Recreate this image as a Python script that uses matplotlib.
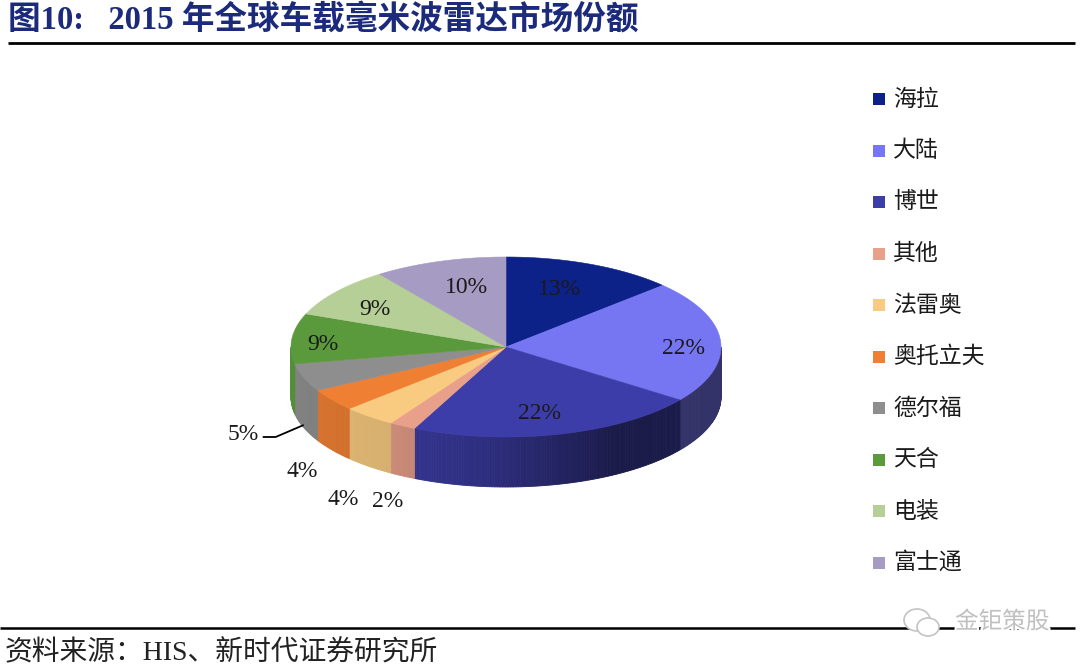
import numpy as np
import matplotlib
matplotlib.use('Agg')
import matplotlib.pyplot as plt
from matplotlib.patches import Polygon, Rectangle, Ellipse
from matplotlib.colors import to_rgb
import matplotlib.patheffects as pe

# ---------------- data ----------------
categories = ['海拉', '大陆', '博世', '其他', '法雷奥', '奥托立夫', '德尔福', '天合', '电装', '富士通']
shares = [13, 22, 22, 2, 4, 4, 5, 9, 9, 10]
colors = ['#0d2288', '#7676f2', '#3d3da9', '#e9a08a', '#f9cb80',
          '#ef7f32', '#8e8e8e', '#5b9a3c', '#b5cf97', '#a69bc2']
title = '图10:   2015 年全球车载毫米波雷达市场份额'
source = '资料来源：HIS、新时代证券研究所'
watermark = '金钜策股'

# ---------------- layout ----------------
CX, CY, RX, RY, DEPTH = 506, 347, 215, 90, 50
# label placement as (x-fraction, y-fraction) of the ellipse radii along the slice's mid-angle
LABEL_POS = [(0.627, 0.702), (0.827, -0.18), (0.626, 0.763), (1.144, 1.325), (1.19, 1.478),
             (1.17, 1.40), None, (0.855, 0.24), (0.771, 0.68), (0.595, 0.695)]
LEADER_IDX = 6
SERIF_CJK = ['Liberation Serif', 'Noto Sans CJK SC']
CJK = ['Noto Sans CJK SC', 'DejaVu Sans']

fig = plt.figure(figsize=(10.8, 6.7), dpi=100)
ax = fig.add_axes([0, 0, 1, 1])
ax.set_xlim(0, 1080)
ax.set_ylim(670, 0)
ax.axis('off')


def pt(theta_deg, rx=1.0, ry=None, dz=0.0):
    if ry is None:
        ry = rx
    t = np.radians(theta_deg)
    return CX + RX * rx * np.cos(t), CY - RY * ry * np.sin(t) + dz


def side_factor(theta_deg):
    phi = theta_deg + 180.0  # 0 = left, 90 = front, 180 = right
    return np.interp(phi, [0, 60, 85, 120, 180], [0.93, 0.86, 0.75, 0.44, 0.43])


total = float(sum(shares))
cum = np.concatenate([[0], np.cumsum(shares)]) / total
starts = 90 - 360 * cum[:-1]
ends = 90 - 360 * cum[1:]

# sides (front half only: theta in [-180, 0])
for i, (a0, a1) in enumerate(zip(starts, ends)):
    hi = min(a0, 0.0)
    lo = max(a1, -180.0)
    if hi <= lo:
        continue
    base = np.array(to_rgb(colors[i]))
    edges = np.linspace(hi, lo, max(2, int((hi - lo) / 0.7) + 2))
    for t0, t1 in zip(edges[:-1], edges[1:]):
        tm = 0.5 * (t0 + t1)
        c = np.clip(base * side_factor(tm), 0, 1)
        p0 = pt(t0); p1 = pt(t1)
        quad = [p0, p1, (p1[0], p1[1] + DEPTH), (p0[0], p0[1] + DEPTH)]
        ax.add_patch(Polygon(quad, closed=True, facecolor=c, edgecolor=c,
                             linewidth=0.6, zorder=1))

# top faces
for i, (a0, a1) in enumerate(zip(starts, ends)):
    th = np.linspace(a0, a1, 200)
    xs, ys = pt(th)
    verts = [(CX, CY)] + list(zip(xs, ys))
    ax.add_patch(Polygon(verts, closed=True, facecolor=colors[i],
                         edgecolor=colors[i], linewidth=0.4, zorder=2))

# data labels
for i, (a0, a1) in enumerate(zip(starts, ends)):
    mid = 0.5 * (a0 + a1)
    txt = f'{shares[i]:.0f}%'
    if i == LEADER_IDX:
        sx, sy = pt(mid, 1.0, 1.0, 0.95 * DEPTH)
        ex, ey = sx - 28, sy + 12
        fx, fy = ex - 13, ey
        ax.plot([sx, ex, fx], [sy, ey, fy], color='black', lw=1.3, zorder=3,
                solid_capstyle='butt')
        ax.text(fx - 4, fy - 2, txt, ha='right', va='center', fontsize=17,
                family='Liberation Serif', color='#1a1a1a', zorder=4)
        continue
    lx, ly = LABEL_POS[i]
    dz = DEPTH if lx > 1 else 0
    x, y = pt(mid, lx, ly, dz)
    ax.text(x, y, txt, ha='center', va='center', fontsize=17,
            family='Liberation Serif', color='#1a1a1a', zorder=4)

# legend
for i, (cat, col) in enumerate(zip(categories, colors)):
    yc = 99 + i * 51.5
    ax.add_patch(Rectangle((873, yc - 6), 12, 12, facecolor=col, edgecolor='none', zorder=3))
    ax.text(893, yc, cat, ha='left', va='center', fontsize=16.5, family=CJK,
            color='#1a1a1a', zorder=3)

# title and rules
ax.text(8, 20, title, ha='left', va='center', fontsize=23.5, fontweight='bold',
        family=SERIF_CJK, color='#1b2a7b')
ax.plot([8, 1075], [43, 43], color='black', lw=2.0, solid_capstyle='butt')
ax.plot([0, 1075], [628, 628], color='black', lw=1.8, solid_capstyle='butt')
ax.text(5, 653, source, ha='left', va='center', fontsize=20,
        family=SERIF_CJK, color='#222222')

# watermark
ax.add_patch(Ellipse((917, 620), 26, 22, facecolor='white', edgecolor='#c4c4c4', lw=1.2, zorder=5))
ax.add_patch(Ellipse((928, 627), 22, 18, facecolor='white', edgecolor='#c4c4c4', lw=1.2, zorder=5))
ax.text(955, 622, watermark, ha='left', va='center', fontsize=17, family=CJK,
        color='#c0c0c0', zorder=6,
        path_effects=[pe.withStroke(linewidth=3, foreground='white')])

fig.savefig('out.png', dpi=100, facecolor='white')
